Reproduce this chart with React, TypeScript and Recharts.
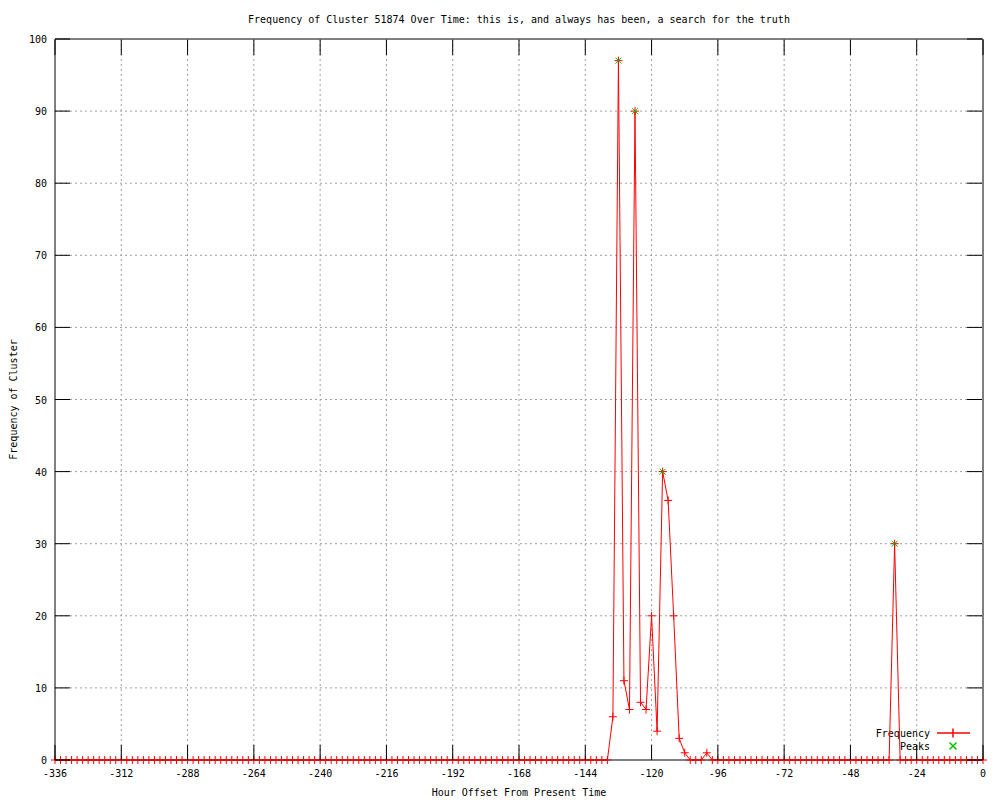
import React from 'react';
import { ComposedChart, Line, Scatter, XAxis, YAxis, CartesianGrid } from 'recharts';

const TITLE = 'Frequency of Cluster 51874 Over Time: this is, and always has been, a search for the truth';
const X_LABEL = 'Hour Offset From Present Time';
const Y_LABEL = 'Frequency of Cluster';

// hourly offsets, one sample every 2 hours from -336 to 0
const hours: number[] = Array.from({ length: 169 }, (_, i) => -336 + 2 * i);

// frequency values, one per entry in hours
const frequency: number[] = [
  0, 0, 0, 0, 0, 0, 0, 0, 0, 0, // -336 .. -318
  0, 0, 0, 0, 0, 0, 0, 0, 0, 0, // -316 .. -298
  0, 0, 0, 0, 0, 0, 0, 0, 0, 0, // -296 .. -278
  0, 0, 0, 0, 0, 0, 0, 0, 0, 0, // -276 .. -258
  0, 0, 0, 0, 0, 0, 0, 0, 0, 0, // -256 .. -238
  0, 0, 0, 0, 0, 0, 0, 0, 0, 0, // -236 .. -218
  0, 0, 0, 0, 0, 0, 0, 0, 0, 0, // -216 .. -198
  0, 0, 0, 0, 0, 0, 0, 0, 0, 0, // -196 .. -178
  0, 0, 0, 0, 0, 0, 0, 0, 0, 0, // -176 .. -158
  0, 0, 0, 0, 0, 0, 0, 0, 0, 0, // -156 .. -138
  0, 6, 97, 11, 7, 90, 8, 7, 20, 4, // -136 .. -118
  40, 36, 20, 3, 1, 0, 0, 0, 1, 0, // -116 .. -98
  0, 0, 0, 0, 0, 0, 0, 0, 0, 0, // -96 .. -78
  0, 0, 0, 0, 0, 0, 0, 0, 0, 0, // -76 .. -58
  0, 0, 0, 0, 0, 0, 0, 0, 0, 0, // -56 .. -38
  0, 0, 30, 0, 0, 0, 0, 0, 0, 0, // -36 .. -18
  0, 0, 0, 0, 0, 0, 0, 0, 0, // -16 .. 0
];

const peakHours: number[] = [-132, -126, -116, -32];
const peakValues: number[] = [97, 90, 40, 30];

const xTicks: number[] = [-336, -312, -288, -264, -240, -216, -192, -168, -144, -120, -96, -72, -48, -24, 0];
const yTicks: number[] = [0, 10, 20, 30, 40, 50, 60, 70, 80, 90, 100];

const lineData = hours.map((h, i) => ({ hour: h, freq: frequency[i] }));
const peakData = peakHours.map((h, i) => ({ hour: h, peak: peakValues[i] }));

const FONT = 'DejaVu Sans Mono';
const RED = '#ff0000';
const GREEN = '#00c000';
const TICK_LEN = 15;

const PlusDot = (props: any) => {
  const { cx, cy, index } = props;
  if (cx == null || cy == null) return null;
  return (
    <path key={`p-${index}`} d={`M${cx - 4},${cy}h8M${cx},${cy - 4}v8`} stroke={RED} strokeWidth={1} fill="none" />
  );
};

const CrossShape = (props: any) => {
  const { cx, cy } = props;
  if (cx == null || cy == null) return null;
  return (
    <path d={`M${cx - 3},${cy - 3}l6,6M${cx - 3},${cy + 3}l6,-6`} stroke={GREEN} strokeWidth={1} fill="none" />
  );
};

const LeftTick = (props: any) => {
  const { x, y, payload } = props;
  return (
    <g>
      <line x1={x + 8} x2={x + 8 + TICK_LEN} y1={y} y2={y} stroke="#000" />
      <text x={x} y={y} dy={4} textAnchor="end" fontFamily={FONT} fontSize={10} fill="#000">
        {payload.value}
      </text>
    </g>
  );
};

const RightTick = (props: any) => {
  const { x, y } = props;
  return <line x1={x - TICK_LEN - 1} x2={x - 1} y1={y} y2={y} stroke="#000" />;
};

const BottomTick = (props: any) => {
  const { x, y, payload } = props;
  return (
    <g>
      <line x1={x} x2={x} y1={y - 10} y2={y - 10 - TICK_LEN} stroke="#000" />
      <text x={x} y={y + 7} textAnchor="middle" fontFamily={FONT} fontSize={10} fill="#000">
        {payload.value}
      </text>
    </g>
  );
};

const TopTick = (props: any) => {
  const { x, y } = props;
  return <line x1={x} x2={x} y1={y + 1} y2={y + 1 + TICK_LEN} stroke="#000" />;
};

const YLabel = (props: any) => {
  const { viewBox } = props;
  const cx = 13;
  const cy = viewBox.y + viewBox.height / 2;
  return (
    <text x={cx} y={cy} dy={4} transform={`rotate(-90, ${cx}, ${cy})`} textAnchor="middle" fontFamily={FONT} fontSize={10} fill="#000">
      {Y_LABEL}
    </text>
  );
};

const LegendGroup = () => (
  <g className="legend">
    <text x={930} y={733} dy={4} textAnchor="end" fontFamily={FONT} fontSize={10} fill="#000">Frequency</text>
    <line x1={937} x2={970} y1={733} y2={733} stroke={RED} strokeWidth={1.5} />
    <line x1={953} x2={953} y1={728.5} y2={737.5} stroke={RED} strokeWidth={1.5} />
    <text x={930} y={746} dy={4} textAnchor="end" fontFamily={FONT} fontSize={10} fill="#000">Peaks</text>
    <line x1={949.5} x2={956.5} y1={742.5} y2={749.5} stroke={GREEN} strokeWidth={1.5} />
    <line x1={949.5} x2={956.5} y1={749.5} y2={742.5} stroke={GREEN} strokeWidth={1.5} />
  </g>
);

export default function App() {
  return (
    <div style={{ position: 'absolute', left: 0, top: 0, width: 1000, height: 800, background: '#fff' }}>
      <ComposedChart width={1000} height={800} data={lineData} margin={{ top: 38, right: 16, left: 0, bottom: 0 }}>
        <CartesianGrid
          xAxisId="bottom"
          yAxisId="left"
          stroke="#a0a0a0"
          strokeDasharray="2 3"
          horizontalValues={yTicks.slice(1, -1)}
          verticalValues={xTicks.slice(1, -1)}
        />
        <XAxis
          xAxisId="bottom"
          dataKey="hour"
          type="number"
          domain={[-336, 0]}
          ticks={xTicks}
          interval={0}
          height={40}
          tickSize={0}
          tickMargin={10}
          axisLine={{ stroke: '#000' }}
          tickLine={false}
          tick={<BottomTick />}
          label={{ value: X_LABEL, position: 'insideBottom', offset: 4, fontFamily: FONT, fontSize: 10, fill: '#000' }}
        />
        <XAxis
          xAxisId="top"
          orientation="top"
          dataKey="hour"
          type="number"
          domain={[-336, 0]}
          ticks={xTicks}
          interval={0}
          height={1}
          tickSize={0}
          tickMargin={0}
          axisLine={{ stroke: '#000' }}
          tickLine={false}
          tick={<TopTick />}
          label={{ value: TITLE, position: 'top', offset: 15, fontFamily: FONT, fontSize: 10, fill: '#000' }}
        />
        <YAxis
          yAxisId="left"
          type="number"
          domain={[0, 100]}
          ticks={yTicks}
          interval={0}
          width={55}
          tickSize={0}
          tickMargin={8}
          axisLine={{ stroke: '#000' }}
          tickLine={false}
          tick={<LeftTick />}
          label={<YLabel />}
        />
        <YAxis
          yAxisId="right"
          orientation="right"
          type="number"
          domain={[0, 100]}
          ticks={yTicks}
          interval={0}
          width={1}
          tickSize={0}
          tickMargin={0}
          axisLine={{ stroke: '#000' }}
          tickLine={false}
          tick={<RightTick />}
        />
        <Line
          xAxisId="top"
          yAxisId="right"
          type="linear"
          dataKey="freq"
          stroke="none"
          dot={false}
          activeDot={false}
          legendType="none"
          isAnimationActive={false}
        />
        <Line
          xAxisId="bottom"
          yAxisId="left"
          type="linear"
          dataKey="freq"
          stroke={RED}
          strokeWidth={1}
          dot={<PlusDot />}
          activeDot={false}
          isAnimationActive={false}
        />
        <Scatter
          xAxisId="bottom"
          yAxisId="left"
          data={peakData}
          dataKey="peak"
          shape={<CrossShape />}
          isAnimationActive={false}
        />
        <LegendGroup />
      </ComposedChart>
    </div>
  );
}
